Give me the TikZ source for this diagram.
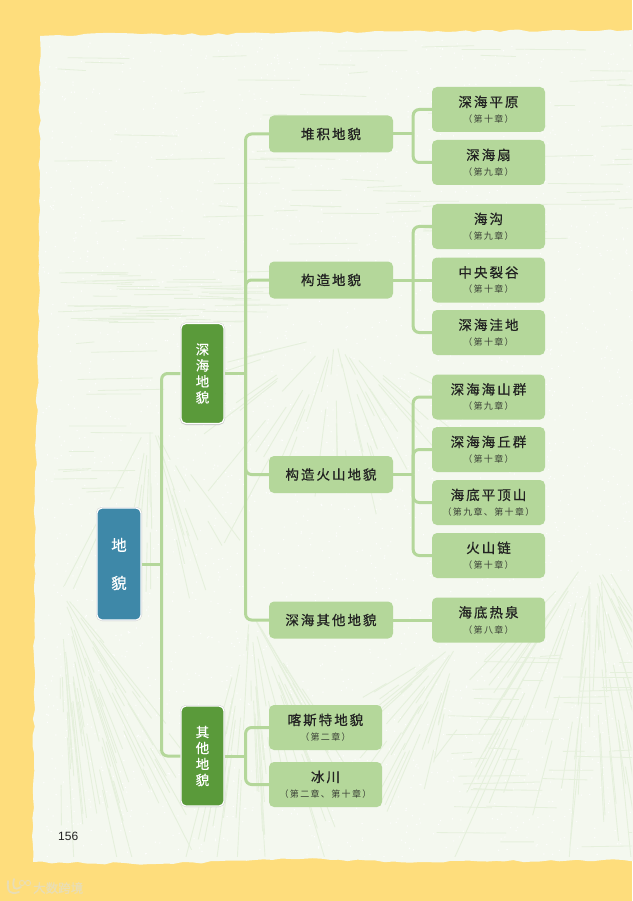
\documentclass[tikz,border=0pt]{standalone}
\usepackage{fontspec}
\setmainfont{Liberation Sans}
\newfontfamily\cjkbold[LetterSpace=15,FakeBold=0.7]{Noto Sans CJK SC}
\newfontfamily\cjkchap[LetterSpace=15]{Noto Sans CJK SC}
\newfontfamily\cjkside[FakeBold=0.4]{Noto Sans CJK SC}
\newfontfamily\cjkmark[FakeBold=0.8]{Noto Sans CJK SC}
\usetikzlibrary{decorations.pathmorphing}
\definecolor{ink}{HTML}{222222}
\definecolor{chapink}{HTML}{3A3F36}
\definecolor{pagebg}{HTML}{FEDD7C}
\definecolor{paper}{HTML}{F4F8EF}
\definecolor{frost}{HTML}{E5F0DC}
\definecolor{leaf}{HTML}{B4D79A}
\definecolor{branch}{HTML}{5A9A3A}
\definecolor{rootblue}{HTML}{3E88A8}
\definecolor{logocream}{HTML}{E9DDB5}
\newcommand{\titlefont}{\fontsize{13.5}{15}\cjkbold}
\newcommand{\chapfont}{\fontsize{9}{10}\cjkchap}
\newcommand{\sidefont}{\fontsize{13.5}{16}\cjkside}
\tikzset{
  leafbox/.style={fill=leaf, rounded corners=5pt, minimum width=113pt, minimum height=45pt,
    inner sep=0pt, align=center, text=ink},
  groupbox/.style={fill=leaf, rounded corners=5pt, minimum width=124pt, minimum height=37pt,
    inner sep=0pt, text=ink, font=\titlefont},
  sidebox/.style={fill=branch, draw=white, line width=1.2pt, rounded corners=5pt,
    minimum width=43pt, minimum height=100pt, inner sep=0pt, align=center, text=white,
    font=\sidefont},
  link/.style={draw=leaf, line width=3pt, rounded corners=6pt},
  softshadow/.style={draw=black!22, line width=1pt, rounded corners=5.5pt},
}
\newcommand{\chaptitle}[2]{{\titlefont #1}\\[3.5pt]{\chapfont\color{chapink} #2}}
\begin{document}
\begin{tikzpicture}[x=1pt,y=-1pt]
  \useasboundingbox (0,0) rectangle (632,901);
  \fill[pagebg] (0,0) rectangle (632,901);

  % torn sheet, it runs off the right side
  \path[fill=paper, decorate, decoration={random steps, segment length=9pt, amplitude=1.2pt}]
    (40,36) -- (115,33) -- (165,35) -- (330,32) -- (640,30) -- (640,860)
    -- (420,862) -- (300,859) -- (150,864) -- (33,862) -- (35,500) -- (39,300) -- cycle;

  % frost on the sheet
  \begin{scope}
    \clip (42,40) rectangle (632,856);
    \pgfmathsetseed{41}
    \fill[white] \foreach \i in {1,...,2600} {
      (40+rnd*592,38+rnd*820) circle (0.7pt)
    };
    % long flat streaks
    \foreach \ya/\yb/\xa/\xb/\many in {270/325/45/240/46, 40/250/45/630/70, 640/850/430/630/36, 340/500/45/100/14} {
      \foreach \i in {1,...,\many} {
        \pgfmathsetmacro{\xs}{\xa+rnd*(\xb-\xa)}
        \pgfmathsetmacro{\ys}{\ya+rnd*(\yb-\ya)}
        \pgfmathsetmacro{\len}{18+rnd*60}
        \draw[frost, line width=0.8pt] (\xs,\ys) -- ++(\len,{(rnd-0.5)*4});
      }
    }
    % fans falling away from the peaks
    \foreach \px/\py/\from/\span/\reach/\many in {
      590/555/50/85/300/60, 600/555/50/60/280/20, 335/335/10/160/190/40,
      250/610/55/50/260/55, 60/590/50/40/280/55, 460/640/100/50/170/30, 150/420/50/70/170/26} {
      \foreach \i in {1,...,\many} {
        \pgfmathsetmacro{\ang}{\from+rnd*\span}
        \pgfmathsetmacro{\ra}{12+rnd*\reach*0.7}
        \pgfmathsetmacro{\rb}{\ra+20+rnd*\reach*0.4}
        \draw[frost, line width=0.9pt] (\px,\py) ++(\ang:\ra) -- ++(\ang:\rb-\ra);
      }
    }
  \end{scope}

  % root and the two branches
  \draw[softshadow] (96.5,507.5) rectangle (141.5,620.5);
  \draw[softshadow] (180.5,323) rectangle (224.5,424.5);
  \draw[softshadow] (180.5,705.5) rectangle (224.5,806.5);
  \node[sidebox, fill=rootblue, minimum width=44pt, minimum height=112pt, font=\fontsize{15.5}{38}\cjkside]
    (diamao) at (119,564) {地\\貌};
  \node[sidebox] (shenhai) at (202.5,373.5) {深\\海\\地\\貌};
  \node[sidebox] (qita) at (202.5,756) {其\\他\\地\\貌};

  % middle column
  \node[groupbox] (duiji) at (331,134) {堆积地貌};
  \node[groupbox] (gouzao) at (331,280) {构造地貌};
  \node[groupbox] (huoshan) at (331,474.5) {构造火山地貌};
  \node[groupbox] (qitahai) at (331,620) {深海其他地貌};

  % chapter boxes
  \foreach \name/\yy/\title/\chap in {
    pingyuan/109.5/深海平原/（第十章）, shan/162.5/深海扇/（第九章）,
    haigou/226.5/海沟/（第九章）, liegu/280/中央裂谷/（第十章）, wadi/332.5/深海洼地/（第十章）,
    shanqun/397/深海海山群/（第九章）, qiuqun/449.5/深海海丘群/（第十章）,
    pingding/502.5/海底平顶山/（第九章、第十章）, lian/555.5/火山链/（第十章）,
    requan/620/海底热泉/（第八章）}
    \node[leafbox] (\name) at (488.5,\yy) {\chaptitle{\title}{\chap}};
  \node[leafbox] (kasite) at (325.5,727.5) {\chaptitle{喀斯特地貌}{（第二章）}};
  \node[leafbox] (bingchuan) at (325.5,784.5) {\chaptitle{冰川}{（第二章、第十章）}};

  % connectors
  \draw[link] (diamao.east) -- ++(20,0) coordinate (diamaoturn);
  \draw[link] (shenhai.east) -- ++(21,0) coordinate (shenhaiturn);
  \draw[link] (qita.east) -- ++(21,0) coordinate (qitaturn);
  \draw[link] (duiji.east) -- ++(20,0) coordinate (duijiturn);
  \draw[link] (gouzao.east) -- (liegu.west);
  \draw[link] (gouzao.east) ++(20,0) coordinate (gouzaoturn);
  \draw[link] (huoshan.east) -- ++(20,0) coordinate (huoshanturn);
  \draw[link] (qitahai.east) -- (requan.west);
  \foreach \from/\to in {
    diamaoturn/shenhai, diamaoturn/qita,
    shenhaiturn/duiji, shenhaiturn/gouzao, shenhaiturn/huoshan, shenhaiturn/qitahai,
    duijiturn/pingyuan, duijiturn/shan, gouzaoturn/haigou, gouzaoturn/wadi,
    huoshanturn/shanqun, huoshanturn/qiuqun, huoshanturn/pingding, huoshanturn/lian,
    qitaturn/kasite, qitaturn/bingchuan}
    \draw[link] (\from) |- (\to.west);

  % page number and watermark
  \node[anchor=west, text=ink, font=\fontsize{12}{13}\selectfont, inner sep=0pt] (pagenum) at (58,836) {156};
  \draw[logocream, line width=1.8pt, line cap=round] (8,881) .. controls (7,892) and (10,895) .. (19,892);
  \draw[logocream, line width=1.8pt, line cap=round] (14,879) .. controls (12,888) and (14,891) .. (21,887);
  \draw[logocream, line width=1pt] (22,883) circle (2.6pt) (28,883) circle (2.6pt);
  \node[anchor=west, text=logocream, inner sep=0pt, font=\fontsize{12.5}{13}\cjkmark] (daishu) at (33,888) {大数跨境};
\end{tikzpicture}
\end{document}
